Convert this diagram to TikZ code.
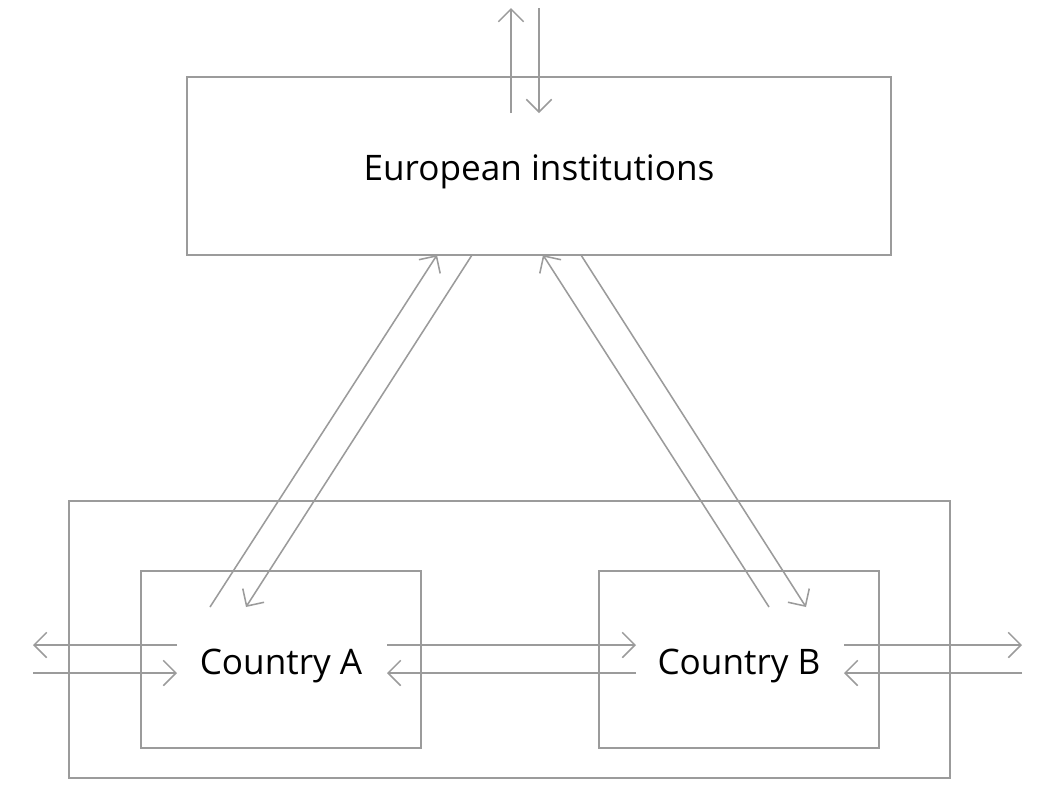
\documentclass[tikz,border=0pt]{standalone}
\usepackage{fontspec}
\setmainfont{Open Sans}
\usetikzlibrary{arrows.meta}
\definecolor{linegray}{RGB}{155,155,155}
\tikzset{box/.style = {draw=linegray, line width=1.1pt}}
\tikzset{edge/.style = {draw=linegray, line width=1.1pt, -{Straight Barb[length=9pt,width=18pt,line width=1.1pt]}}}
\tikzset{label/.style = {font=\fontsize{25}{28}\selectfont}}
\begin{document}
\begin{tikzpicture}[x=0.025cm,y=-0.025cm]
                \useasboundingbox (0,0) rectangle (1060,792);
                \draw[box] (187,77) rectangle (891,255);
                \node[label] (eu) at (539,172) {European institutions};
                \draw[box] (69,501) rectangle (950,778);
                \draw[box] (141,571) rectangle (421,748);
                \node[label] (ca) at (281,666) {Country A};
                \draw[box] (599,571) rectangle (879,748);
                \node[label] (cb) at (739,666) {Country B};
                % top
                \coordinate (t1) at (511,113); \coordinate (t2) at (511,8);
                \coordinate (t3) at (539,8); \coordinate (t4) at (539,113);
                \draw[edge] (t1) to (t2);
                \draw[edge] (t3) to (t4);
                % diagonals
                \coordinate (a1) at (210,607); \coordinate (a2) at (437,255);
                \coordinate (a3) at (472,255); \coordinate (a4) at (246,607);
                \draw[edge] (a1) to (a2);
                \draw[edge] (a3) to (a4);
                \coordinate (b1) at (769,607); \coordinate (b2) at (543,255);
                \coordinate (b3) at (581,255); \coordinate (b4) at (806,607);
                \draw[edge] (b1) to (b2);
                \draw[edge] (b3) to (b4);
                % horizontals
                \coordinate (l1) at (177,645); \coordinate (l2) at (33,645);
                \coordinate (l3) at (33,673); \coordinate (l4) at (177,673);
                \draw[edge] (l1) to (l2);
                \draw[edge] (l3) to (l4);
                \coordinate (m1) at (387,645); \coordinate (m2) at (636,645);
                \coordinate (m3) at (636,673); \coordinate (m4) at (387,673);
                \draw[edge] (m1) to (m2);
                \draw[edge] (m3) to (m4);
                \coordinate (r1) at (844,645); \coordinate (r2) at (1022,645);
                \coordinate (r3) at (1022,673); \coordinate (r4) at (844,673);
                \draw[edge] (r1) to (r2);
                \draw[edge] (r3) to (r4);
\end{tikzpicture}
\end{document}
